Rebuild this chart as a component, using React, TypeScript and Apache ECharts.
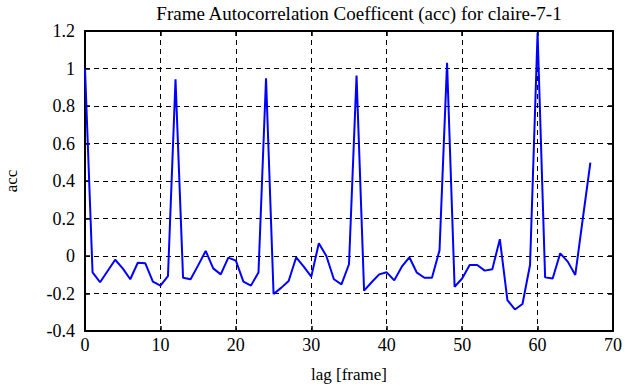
import React, { useEffect, useRef } from "react";
import * as echarts from "echarts";

const titleText = "Frame Autocorrelation Coefficent (acc) for claire-7-1";
const xName = "lag [frame]";
const yName = "acc";

const lags: number[] = Array.from({ length: 68 }, (_, i) => i);
const acc: number[] = [
  1.0, -0.087, -0.14, -0.08, -0.02, -0.066, -0.124, -0.036, -0.039, -0.137,
  -0.158, -0.107, 0.942, -0.116, -0.124, -0.05, 0.027, -0.066, -0.098, -0.009,
  -0.025, -0.137, -0.158, -0.088, 0.948, -0.203, -0.17, -0.133, -0.007, -0.057,
  -0.11, 0.068, 0.0, -0.124, -0.151, -0.044, 0.962, -0.185, -0.14, -0.098,
  -0.087, -0.13, -0.057, -0.007, -0.089, -0.116, -0.116, 0.03, 1.03, -0.164,
  -0.12, -0.048, -0.048, -0.078, -0.071, 0.09, -0.235, -0.285, -0.256, -0.048,
  1.19, -0.114, -0.12, 0.014, -0.03, -0.101, 0.2, 0.498,
];

const FONT = "'Liberation Serif', 'Times New Roman', serif";

export default function App() {
  const ref = useRef<HTMLDivElement>(null);
  useEffect(() => {
    if (!ref.current) return;
    const chart = echarts.init(ref.current, null, { renderer: "svg" });
    const gridLine = { show: true, lineStyle: { color: "#000", width: 1, type: [5, 4] as any } };
    const axisLine = { show: true, onZero: false, lineStyle: { color: "#000", width: 2 } };
    const axisTick = { show: true, inside: true, length: 5, lineStyle: { color: "#000", width: 1.5 } };
    chart.setOption({
      animation: false,
      backgroundColor: "#fff",
      title: {
        text: titleText,
        left: 354,
        textAlign: "center",
        top: -1,
        textStyle: { fontFamily: FONT, fontSize: 19, fontWeight: "normal", color: "#000" },
      },
      grid: { left: 85, right: 12, top: 31, bottom: 56, containLabel: false, outerBoundsMode: "none" },
      xAxis: [
        {
          type: "value",
          min: 0,
          max: 70,
          interval: 10,
          name: xName,
          nameLocation: "middle",
          nameGap: 35,
          nameTextStyle: { fontFamily: FONT, fontSize: 17, color: "#000" },
          axisLine,
          axisTick,
          splitLine: gridLine,
          axisLabel: { fontFamily: FONT, fontSize: 18, color: "#000", margin: 5 },
        },
        {
          type: "value",
          position: "top",
          min: 0,
          max: 70,
          interval: 10,
          axisLine,
          axisTick,
          splitLine: { show: false },
          axisLabel: { show: false },
        },
      ],
      yAxis: [
        {
          type: "value",
          min: -0.4,
          max: 1.2,
          interval: 0.2,
          name: yName,
          nameLocation: "middle",
          nameGap: 65,
          nameRotate: 90,
          nameTextStyle: { fontFamily: FONT, fontSize: 17, color: "#000" },
          axisLine,
          axisTick,
          splitLine: gridLine,
          axisLabel: {
            fontFamily: FONT,
            fontSize: 18,
            color: "#000",
            margin: 10,
            formatter: (v: number) => String(Math.round(v * 10) / 10),
          },
        },
        {
          type: "value",
          position: "right",
          min: -0.4,
          max: 1.2,
          interval: 0.2,
          axisLine,
          axisTick,
          splitLine: { show: false },
          axisLabel: { show: false },
        },
      ],
      series: [
        {
          type: "line",
          data: lags.map((l, i) => [l, acc[i]]),
          showSymbol: false,
          lineStyle: { color: "#0000ff", width: 2 },
          itemStyle: { color: "#0000ff" },
          clip: false,
        },
      ],
    });
    return () => chart.dispose();
  }, []);
  return <div ref={ref} style={{ width: 625, height: 387, position: "absolute", left: 0, top: 0 }} />;
}
